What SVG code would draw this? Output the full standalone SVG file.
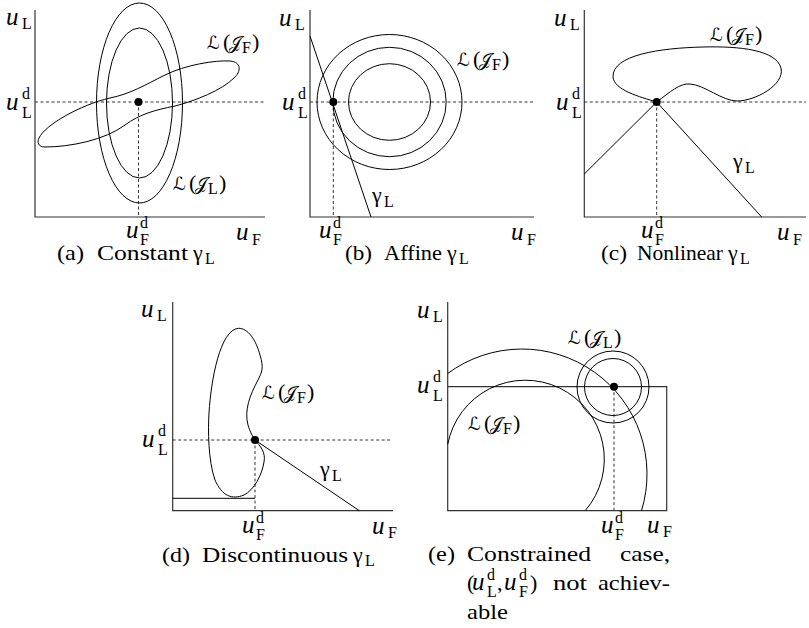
<svg xmlns="http://www.w3.org/2000/svg" width="809" height="628" viewBox="0 0 809 628">
<style>
.ax{stroke:#333;stroke-width:1.2;fill:none}
.cv{stroke:#000;stroke-width:1;fill:none}
.dsh{stroke:#333;stroke-width:1;stroke-dasharray:3 2.5;fill:none}
.dot{fill:#000}
</style>
<rect width="809" height="628" fill="#fff"/>
<g font-family="Liberation Serif, serif" font-size="22" fill="#000">

<g id="panel-a">
  <path class="ax" d="M35,10 V217 H265"/>
  <g id="a-connectors">
    <path class="dsh" d="M35,102 H265 M138.5,102 V217"/>
  </g>
  <ellipse class="cv" cx="139.5" cy="103" rx="43" ry="100"/>
  <ellipse class="cv" cx="139.5" cy="103" rx="33" ry="75"/>
  <path class="cv" d="M39,138 C45,125 80,105 110,98 C130,94 145,85 165,75 C185,65 215,60 230,61 C242,62 241,72 234,78 C222,90 195,101 175,106 C155,110 140,114 125,125 C105,140 70,147 45,147 C38,147 37,142 39,138 Z"/>
  <circle class="dot" cx="138.5" cy="102" r="4"/>
  <text><tspan font-style="italic" font-size="25" x="6" y="25">u</tspan><tspan font-size="16" x="22" y="29">L</tspan></text>
  <text><tspan font-style="italic" font-size="25" x="6" y="110">u</tspan><tspan font-size="16" x="22" y="99">d</tspan><tspan font-size="16" x="22" y="118">L</tspan></text>
  <text><tspan font-style="italic" font-size="25" x="126" y="238">u</tspan><tspan font-size="16" x="140" y="228">d</tspan><tspan font-size="16" x="140" y="245">F</tspan></text>
  <text><tspan font-style="italic" font-size="25" x="236" y="240">u</tspan><tspan font-size="16" x="252" y="245">F</tspan></text>
  <text><tspan font-family="DejaVu Sans, sans-serif" font-style="italic" font-size="18" x="207" y="49">ℒ</tspan><tspan x="223" y="49">(</tspan><tspan font-family="DejaVu Sans, sans-serif" font-size="18" x="229" y="49">𝒥</tspan><tspan font-size="16" x="242" y="53">F</tspan><tspan x="252" y="49">)</tspan></text>
  <text><tspan font-family="DejaVu Sans, sans-serif" font-style="italic" font-size="18" x="173" y="190">ℒ</tspan><tspan x="189" y="190">(</tspan><tspan font-family="DejaVu Sans, sans-serif" font-size="18" x="195" y="190">𝒥</tspan><tspan font-size="16" x="208" y="194">L</tspan><tspan x="219" y="190">)</tspan></text>
  <text x="57" y="260" textLength="27" lengthAdjust="spacingAndGlyphs">(a)</text>
  <text x="97" y="260" textLength="91" lengthAdjust="spacingAndGlyphs">Constant</text>
  <text><tspan x="193" y="260">γ</tspan><tspan font-size="16" x="205" y="264">L</tspan></text>
</g>

<g id="panel-b">
  <path class="ax" d="M310,10 V217 H534"/>
  <g id="b-connectors">
    <path class="dsh" d="M310,102 H534 M333.3,102 V217"/>
    <path class="cv" d="M310,36 L371,217"/>
  </g>
  <ellipse class="cv" cx="389.5" cy="102" rx="72.5" ry="67.5"/>
  <ellipse class="cv" cx="389.5" cy="102" rx="56.7" ry="54.7"/>
  <ellipse class="cv" cx="389.5" cy="102" rx="41" ry="38.3"/>
  <circle class="dot" cx="333.3" cy="102" r="4"/>
  <text><tspan font-style="italic" font-size="25" x="279" y="26">u</tspan><tspan font-size="16" x="295" y="30">L</tspan></text>
  <text><tspan font-style="italic" font-size="25" x="282" y="110">u</tspan><tspan font-size="16" x="298" y="99">d</tspan><tspan font-size="16" x="298" y="118">L</tspan></text>
  <text><tspan font-style="italic" font-size="25" x="319" y="238">u</tspan><tspan font-size="16" x="333" y="228">d</tspan><tspan font-size="16" x="333" y="245">F</tspan></text>
  <text><tspan font-style="italic" font-size="25" x="511" y="240">u</tspan><tspan font-size="16" x="527" y="245">F</tspan></text>
  <text><tspan font-family="DejaVu Sans, sans-serif" font-style="italic" font-size="18" x="457" y="66">ℒ</tspan><tspan x="473" y="66">(</tspan><tspan font-family="DejaVu Sans, sans-serif" font-size="18" x="479" y="66">𝒥</tspan><tspan font-size="16" x="492" y="70">F</tspan><tspan x="502" y="66">)</tspan></text>
  <text><tspan x="372" y="202">γ</tspan><tspan font-size="16" x="384" y="207">L</tspan></text>
  <text x="345" y="260" textLength="27" lengthAdjust="spacingAndGlyphs">(b)</text>
  <text x="384" y="260" textLength="58" lengthAdjust="spacingAndGlyphs">Affine</text>
  <text><tspan x="447" y="260">γ</tspan><tspan font-size="16" x="459" y="264">L</tspan></text>
</g>

<g id="panel-c">
  <path class="ax" d="M584.3,10 V217 H806"/>
  <g id="c-connectors">
    <path class="dsh" d="M584.3,102 H806 M656.7,102 V217"/>
    <path class="cv" d="M584.3,174 L656.7,102 L761.7,217"/>
  </g>
  <path class="cv" d="M656.7,102 C670,92 680,83 690,84 C705,85 722,101 737,101 C755,101 785,85 781,68 C776,50 740,46 703,47 C660,48 612,55 613,77 C614,90 640,97 656.7,102 Z"/>
  <circle class="dot" cx="656.7" cy="102" r="4"/>
  <text><tspan font-style="italic" font-size="25" x="554" y="26">u</tspan><tspan font-size="16" x="570" y="30">L</tspan></text>
  <text><tspan font-style="italic" font-size="25" x="556" y="110">u</tspan><tspan font-size="16" x="572" y="99">d</tspan><tspan font-size="16" x="572" y="118">L</tspan></text>
  <text><tspan font-style="italic" font-size="25" x="641" y="238">u</tspan><tspan font-size="16" x="655" y="228">d</tspan><tspan font-size="16" x="655" y="245">F</tspan></text>
  <text><tspan font-style="italic" font-size="25" x="777" y="240">u</tspan><tspan font-size="16" x="793" y="245">F</tspan></text>
  <text><tspan font-family="DejaVu Sans, sans-serif" font-style="italic" font-size="18" x="710" y="41">ℒ</tspan><tspan x="726" y="41">(</tspan><tspan font-family="DejaVu Sans, sans-serif" font-size="18" x="732" y="41">𝒥</tspan><tspan font-size="16" x="745" y="45">F</tspan><tspan x="755" y="41">)</tspan></text>
  <text><tspan x="733" y="168">γ</tspan><tspan font-size="16" x="745" y="173">L</tspan></text>
  <text x="601" y="260" textLength="26" lengthAdjust="spacingAndGlyphs">(c)</text>
  <text x="637" y="260" textLength="86" lengthAdjust="spacingAndGlyphs">Nonlinear</text>
  <text><tspan x="728" y="260">γ</tspan><tspan font-size="16" x="740" y="264">L</tspan></text>
</g>

<g id="panel-d">
  <path class="ax" d="M172.7,302 V510.7 H393"/>
  <g id="d-connectors">
    <path class="dsh" d="M172.7,440 H390 M255,440 V510.7"/>
    <path class="cv" d="M172.7,498.3 H255 M255,440 L359.3,510.7"/>
  </g>
  <path class="cv" d="M238.3,328.3 C248,328 256,340 260,355 C264,368 262,372 258,380 C250,395 244,410 248,425 C250,432 253,437 255,440 C260,446 266,452 264,462 C262,475 254,490 244,495 C232,500 222,496 215,480 C208,460 208,430 209,413 C211,380 220,330 238.3,328.3 Z"/>
  <circle class="dot" cx="255" cy="440" r="4"/>
  <text><tspan font-style="italic" font-size="25" x="141" y="317">u</tspan><tspan font-size="16" x="157" y="321">L</tspan></text>
  <text><tspan font-style="italic" font-size="25" x="142" y="447">u</tspan><tspan font-size="16" x="158" y="436">d</tspan><tspan font-size="16" x="158" y="455">L</tspan></text>
  <text><tspan font-style="italic" font-size="25" x="242" y="533">u</tspan><tspan font-size="16" x="256" y="523">d</tspan><tspan font-size="16" x="256" y="540">F</tspan></text>
  <text><tspan font-style="italic" font-size="25" x="372" y="534">u</tspan><tspan font-size="16" x="388" y="538">F</tspan></text>
  <text><tspan font-family="DejaVu Sans, sans-serif" font-style="italic" font-size="18" x="262" y="399">ℒ</tspan><tspan x="278" y="399">(</tspan><tspan font-family="DejaVu Sans, sans-serif" font-size="18" x="284" y="399">𝒥</tspan><tspan font-size="16" x="297" y="403">F</tspan><tspan x="307" y="399">)</tspan></text>
  <text><tspan x="320" y="476">γ</tspan><tspan font-size="16" x="332" y="481">L</tspan></text>
  <text x="162" y="562" textLength="28" lengthAdjust="spacingAndGlyphs">(d)</text>
  <text x="202" y="562" textLength="146" lengthAdjust="spacingAndGlyphs">Discontinuous</text>
  <text><tspan x="353" y="562">γ</tspan><tspan font-size="16" x="365" y="566">L</tspan></text>
</g>

<g id="panel-e">
  <path class="ax" d="M447.7,302 V510.7 H666.7 V386.7 H447.7"/>
  <g id="e-connectors">
    <path class="dsh" d="M614,386.7 V510.7"/>
  </g>
  <path class="cv" d="M447.7,373.5 A125,125 0 0 1 641.5,510.7"/>
  <path class="cv" d="M447.7,444.4 A79,79 0 1 1 585.2,510.7"/>
  <circle class="cv" cx="613" cy="387" r="36"/>
  <circle class="cv" cx="613" cy="387" r="28.5"/>
  <circle class="dot" cx="614" cy="386.7" r="4"/>
  <text><tspan font-style="italic" font-size="25" x="417" y="318">u</tspan><tspan font-size="16" x="433" y="322">L</tspan></text>
  <text><tspan font-style="italic" font-size="25" x="417" y="393">u</tspan><tspan font-size="16" x="433" y="382">d</tspan><tspan font-size="16" x="433" y="401">L</tspan></text>
  <text><tspan font-style="italic" font-size="25" x="601" y="533">u</tspan><tspan font-size="16" x="615" y="523">d</tspan><tspan font-size="16" x="615" y="540">F</tspan></text>
  <text><tspan font-style="italic" font-size="25" x="647" y="533">u</tspan><tspan font-size="16" x="663" y="537">F</tspan></text>
  <text><tspan font-family="DejaVu Sans, sans-serif" font-style="italic" font-size="18" x="568" y="344">ℒ</tspan><tspan x="584" y="344">(</tspan><tspan font-family="DejaVu Sans, sans-serif" font-size="18" x="590" y="344">𝒥</tspan><tspan font-size="16" x="603" y="348">L</tspan><tspan x="614" y="344">)</tspan></text>
  <text><tspan font-family="DejaVu Sans, sans-serif" font-style="italic" font-size="18" x="468" y="430">ℒ</tspan><tspan x="484" y="430">(</tspan><tspan font-family="DejaVu Sans, sans-serif" font-size="18" x="490" y="430">𝒥</tspan><tspan font-size="16" x="503" y="434">F</tspan><tspan x="513" y="430">)</tspan></text>
  <text x="428" y="561" textLength="27" lengthAdjust="spacingAndGlyphs">(e)</text>
  <text x="467" y="561" textLength="124" lengthAdjust="spacingAndGlyphs">Constrained</text>
  <text x="620" y="561" textLength="50" lengthAdjust="spacingAndGlyphs">case,</text>
  <text><tspan x="467" y="590">(</tspan><tspan font-style="italic" font-size="25" x="472" y="590">u</tspan><tspan font-size="16" x="487" y="580">d</tspan><tspan font-size="16" x="487" y="597">L</tspan><tspan x="497" y="590">,</tspan><tspan font-style="italic" font-size="25" x="504" y="590">u</tspan><tspan font-size="16" x="519" y="580">d</tspan><tspan font-size="16" x="519" y="597">F</tspan><tspan x="530" y="590">)</tspan></text>
  <text x="553" y="590" textLength="34" lengthAdjust="spacingAndGlyphs">not</text>
  <text x="598" y="590" textLength="72" lengthAdjust="spacingAndGlyphs">achiev-</text>
  <text x="467" y="619" textLength="41" lengthAdjust="spacingAndGlyphs">able</text>
</g>
</g>
</svg>
